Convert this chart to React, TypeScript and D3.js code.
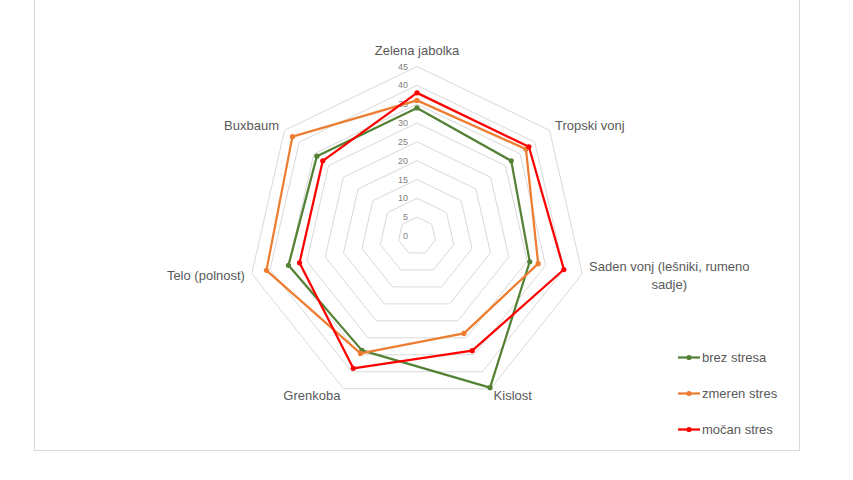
import { useEffect, useRef } from "react"
import * as d3 from "d3"

// Chart data
const categories = [
  "Zelena jabolka",
  "Tropski vonj",
  "Saden vonj (lešniki, rumeno sadje)",
  "Kislost",
  "Grenkoba",
  "Telo (polnost)",
  "Buxbaum",
]
const seriesNames = ["brez stresa", "zmeren stres", "močan stres"]
const brezStresa = [34, 32, 30.7, 44.7, 33.7, 35, 34]
const zmerenStres = [36, 37, 33, 28.7, 34.6, 41, 42.3]
const mocanStres = [38, 38, 40, 33.8, 39, 32, 32]
const ticks = [0, 5, 10, 15, 20, 25, 30, 35, 40, 45]

const colors = ["#548235", "#ED7D31", "#FF0000"]

export default function App() {
  const svgRef = useRef<SVGSVGElement>(null)

  useEffect(() => {
    if (!svgRef.current) return
    d3.select(svgRef.current).selectAll("*").remove()

    const width = 853
    const height = 480
    const cx = 417
    const cy = 236
    const radius = 169.5
    const font = "'Liberation Sans', Arial, sans-serif"

    const svg = d3.select(svgRef.current).attr("width", width).attr("height", height)

    // Chart border
    svg
      .append("rect")
      .attr("x", 34.5)
      .attr("y", -2)
      .attr("width", 765)
      .attr("height", 452.5)
      .attr("fill", "#fff")
      .attr("stroke", "#d9d9d9")

    const r = d3.scaleLinear().domain([0, 45]).range([0, radius])
    const angle = d3
      .scalePoint<string>()
      .domain(categories)
      .range([0, (2 * Math.PI * (categories.length - 1)) / categories.length])

    const g = svg.append("g").attr("transform", `translate(${cx},${cy})`)

    // Grid rings
    const ring = d3
      .lineRadial<string>()
      .angle((c) => angle(c)!)
      .curve(d3.curveLinearClosed)

    g.selectAll("path.grid")
      .data(ticks.filter((t) => t > 0))
      .enter()
      .append("path")
      .attr("class", "grid")
      .attr("d", (t) => ring.radius(r(t))(categories))
      .attr("fill", "none")
      .attr("stroke", "#d9d9d9")
      .attr("stroke-width", 1)

    // Tick labels
    g.selectAll("text.tick")
      .data(ticks)
      .enter()
      .append("text")
      .attr("class", "tick")
      .attr("x", -9)
      .attr("y", (t) => -r(t))
      .attr("dy", "0.35em")
      .attr("text-anchor", "end")
      .attr("fill", "#7f7f7f")
      .style("font-family", font)
      .style("font-size", "9px")
      .text((t) => t)

    // Category labels
    categories.forEach((c) => {
      const a = angle(c)!
      const s = Math.sin(a)
      const co = Math.cos(a)
      const lx = s * (radius + 7)
      const ly = -co * (radius + 7)
      const anchor = Math.abs(s) < 0.1 ? "middle" : s > 0 ? "start" : "end"
      const words = c.split(" ")
      const lines: string[] = []
      let cur = ""
      words.forEach((w) => {
        const next = cur ? cur + " " + w : w
        if (next.length > 27 && cur) {
          lines.push(cur)
          cur = w
        } else cur = next
      })
      lines.push(cur)

      const lineH = 18
      const baseShift = co > 0.9 ? -5 : 4.5
      const t = g
        .append("text")
        .attr("fill", "#595959")
        .style("font-family", font)
        .style("font-size", "13px")
        .attr("text-anchor", lines.length > 1 ? "middle" : anchor)

      const tspans = lines.map((line, i) =>
        t
          .append("tspan")
          .attr("x", lx)
          .attr("y", ly + baseShift + (i - (lines.length - 1) / 2) * lineH)
          .text(line),
      )
      if (lines.length > 1) {
        // center the block: width of the widest line
        const w = d3.max(tspans, (ts) => (ts.node() as SVGTSpanElement).getComputedTextLength()) || 0
        const mid = anchor === "start" ? lx + w / 2 : anchor === "end" ? lx - w / 2 : lx
        tspans.forEach((ts) => ts.attr("x", mid))
      }
    })

    // Series
    const seriesData = [brezStresa, zmerenStres, mocanStres]
    const line = d3
      .lineRadial<number>()
      .angle((_, i) => angle(categories[i])!)
      .radius((v) => r(v))
      .curve(d3.curveLinearClosed)

    seriesData.forEach((vals, si) => {
      g.append("path")
        .attr("d", line(vals))
        .attr("fill", "none")
        .attr("stroke", colors[si])
        .attr("stroke-width", 2.25)
        .attr("stroke-linejoin", "round")

      g.selectAll(`circle.s${si}`)
        .data(vals)
        .enter()
        .append("circle")
        .attr("class", `s${si}`)
        .attr("cx", (v, i) => Math.sin(angle(categories[i])!) * r(v))
        .attr("cy", (v, i) => -Math.cos(angle(categories[i])!) * r(v))
        .attr("r", 2.6)
        .attr("fill", colors[si])
    })

    // Legend
    const legend = svg
      .selectAll("g.legend")
      .data(seriesNames)
      .enter()
      .append("g")
      .attr("class", "legend")
      .attr("transform", (_, i) => `translate(678,${357.5 + i * 36})`)

    legend
      .append("line")
      .attr("x1", 0)
      .attr("x2", 22)
      .attr("stroke", (_, i) => colors[i])
      .attr("stroke-width", 2.25)
    legend
      .append("circle")
      .attr("cx", 11)
      .attr("r", 2.6)
      .attr("fill", (_, i) => colors[i])
    legend
      .append("text")
      .attr("x", 24)
      .attr("dy", "0.35em")
      .attr("fill", "#595959")
      .style("font-family", font)
      .style("font-size", "13px")
      .text((d) => d)
  }, [])

  return (
    <div style={{ position: "absolute", left: 0, top: 0 }}>
      <svg ref={svgRef} style={{ display: "block" }}></svg>
    </div>
  )
}
